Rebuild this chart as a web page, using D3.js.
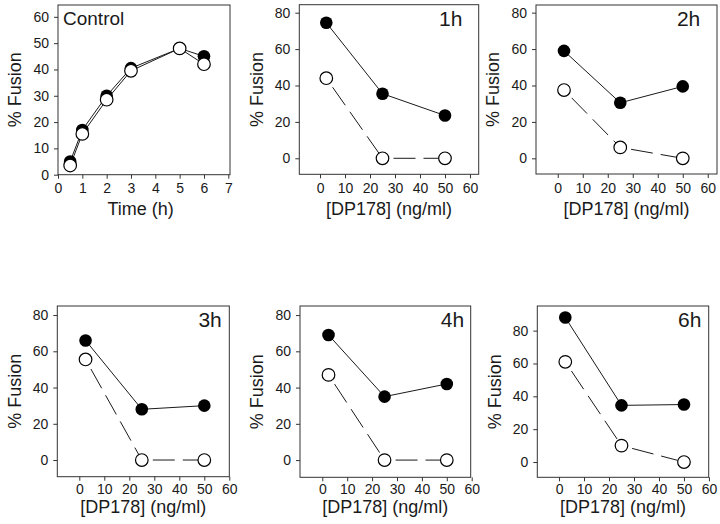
<!DOCTYPE html>
<html>
<head>
<meta charset="utf-8">
<script src="https://cdn.jsdelivr.net/npm/d3@7"></script>
<style>
  body { margin: 0; background: #fff; }
  svg { display: block; font-family: "Liberation Sans", Arial, sans-serif; }
</style>
</head>
<body>
<div id="chart"></div>
<script>
// Control time course
const controlTime = [0.5, 1, 2, 3, 5, 6];
const controlFilled = [5, 17, 30, 40.5, 48, 45];
const controlOpen = [3.5, 15.5, 28.5, 39.5, 48, 42];

// DP178 dose panels
const doses = [2.5, 25, 50];
const timeLabels = ["1h", "2h", "3h", "4h", "6h"];
const filledByTime = [
  [74.5, 35.5, 23.5],
  [59, 30.5, 39.5],
  [66, 28, 30],
  [69, 35, 42],
  [88, 34.5, 35]
];
const openByTime = [
  [44, 0, 0],
  [37.5, 6, 0],
  [55.5, 0, 0],
  [47, 0, 0],
  [61, 10, 0]
];

const timeTicks = [0, 1, 2, 3, 4, 5, 6, 7];
const controlFusionTicks = [0, 10, 20, 30, 40, 50, 60];
const doseTicks = [0, 10, 20, 30, 40, 50, 60];
const fusionTicks = [0, 20, 40, 60, 80];

const width = 720, height = 524;
const svg = d3.select("#chart").append("svg")
  .attr("width", width)
  .attr("height", height);

// panel frames (pixels) and axis ranges
const panels = [
  { title: "Control", box: [58, 230, 5, 174.7], xd: [0, 7.07], yd: [0, 64.5],
    xt: timeTicks, yt: controlFusionTicks, xlab: "Time (h)", labDy: 40, tickPad: 4,
    xs: controlTime, filled: controlFilled, open: controlOpen, dashed: false },
  { title: timeLabels[0], box: [299.3, 478.7, 4.7, 174.3], xd: [-8.3, 63.5], yd: [-8.8, 84.4] },
  { title: timeLabels[1], box: [536, 717, 5, 174], xd: [-8.7, 63.7], yd: [-8.6, 84.2] },
  { title: timeLabels[2], box: [57.3, 229.3, 306, 476.7], xd: [-8.8, 60], yd: [-9.2, 85] },
  { title: timeLabels[3], box: [300, 470.7, 306, 477.3], xd: [-8.95, 59.6], yd: [-9.5, 85] },
  { title: timeLabels[4], box: [537.3, 708.7, 306, 477.3], xd: [-8.7, 59.9], yd: [-9.3, 95] }
];

panels.forEach((p, i) => {
  if (i > 0) {
    p.xt = doseTicks;
    p.yt = fusionTicks;
    p.xlab = "[DP178] (ng/ml)";
    p.labDy = i < 3 ? 41 : 36;
    p.tickPad = i < 3 ? 5 : 3;
    p.xs = doses;
    p.filled = filledByTime[i - 1];
    p.open = openByTime[i - 1];
    p.dashed = true;
  }
});

const ink = "#1a1a1a";

panels.forEach((p, i) => {
  const [x0, x1, y0, y1] = p.box;
  const x = d3.scaleLinear().domain(p.xd).range([x0, x1]);
  const y = d3.scaleLinear().domain(p.yd).range([y1, y0]);
  const g = svg.append("g");

  // frame
  g.append("rect")
    .attr("x", x0).attr("y", y0)
    .attr("width", x1 - x0).attr("height", y1 - y0)
    .attr("fill", "none")
    .attr("stroke", "#333")
    .attr("stroke-width", 1);

  // axes
  const xAxis = g.append("g")
    .attr("transform", `translate(0,${y1})`)
    .call(d3.axisBottom(x).tickValues(p.xt).tickFormat(d3.format("d"))
      .tickSize(4).tickPadding(p.tickPad).tickSizeOuter(0));
  const yAxis = g.append("g")
    .attr("transform", `translate(${x0},0)`)
    .call(d3.axisLeft(y).tickValues(p.yt).tickFormat(d3.format("d"))
      .tickSize(4).tickPadding(5).tickSizeOuter(0));
  [xAxis, yAxis].forEach(a => {
    a.attr("font-size", null).attr("font-family", null);
    a.select(".domain").remove();
    a.selectAll("line").attr("stroke", "#333");
    a.selectAll("text")
      .attr("fill", ink)
      .style("font-size", "14px");
  });

  // axis titles
  g.append("text")
    .attr("transform", `translate(${x0 - 43},${(y0 + y1) / 2}) rotate(-90)`)
    .attr("dy", "0.35em")
    .attr("text-anchor", "middle")
    .attr("fill", ink)
    .style("font-size", "18px")
    .text("% Fusion");

  g.append("text")
    .attr("x", i === 0 ? x(3.4) : (x0 + x1) / 2)
    .attr("y", y1 + p.labDy)
    .attr("text-anchor", "middle")
    .attr("fill", ink)
    .style("font-size", "18px")
    .text(p.xlab);

  // panel label
  if (i === 0) {
    g.append("text")
      .attr("x", x0 + 5).attr("y", y0 + 20)
      .attr("fill", ink)
      .style("font-size", "19px")
      .text(p.title);
  } else {
    g.append("text")
      .attr("x", x(57)).attr("y", y0 + 21)
      .attr("text-anchor", "end")
      .attr("fill", ink)
      .style("font-size", "21px")
      .text(p.title);
  }

  const filledPts = p.xs.map((v, k) => [x(v), y(p.filled[k])]);
  const openPts = p.xs.map((v, k) => [x(v), y(p.open[k])]);

  // filled series line (solid)
  g.append("path")
    .attr("d", d3.line()(filledPts))
    .attr("fill", "none")
    .attr("stroke", ink)
    .attr("stroke-width", 1);

  // open series line
  if (p.dashed) {
    d3.pairs(openPts).forEach(([a, b]) => {
      g.append("line")
        .attr("x1", a[0]).attr("y1", a[1])
        .attr("x2", b[0]).attr("y2", b[1])
        .attr("stroke", ink)
        .attr("stroke-width", 1)
        .attr("stroke-dasharray", "22,8")
        .attr("stroke-dashoffset", 19);
    });
  } else {
    g.append("path")
      .attr("d", d3.line()(openPts))
      .attr("fill", "none")
      .attr("stroke", ink)
      .attr("stroke-width", 1);
  }

  g.selectAll("circle.filled")
    .data(filledPts)
    .enter().append("circle")
    .attr("class", "filled")
    .attr("cx", d => d[0]).attr("cy", d => d[1])
    .attr("r", 6.3)
    .attr("fill", "#000");

  g.selectAll("circle.open")
    .data(openPts)
    .enter().append("circle")
    .attr("class", "open")
    .attr("cx", d => d[0]).attr("cy", d => d[1])
    .attr("r", 6.3)
    .attr("fill", "#fff")
    .attr("stroke", "#000")
    .attr("stroke-width", 1.2);
});
</script>
</body>
</html>
